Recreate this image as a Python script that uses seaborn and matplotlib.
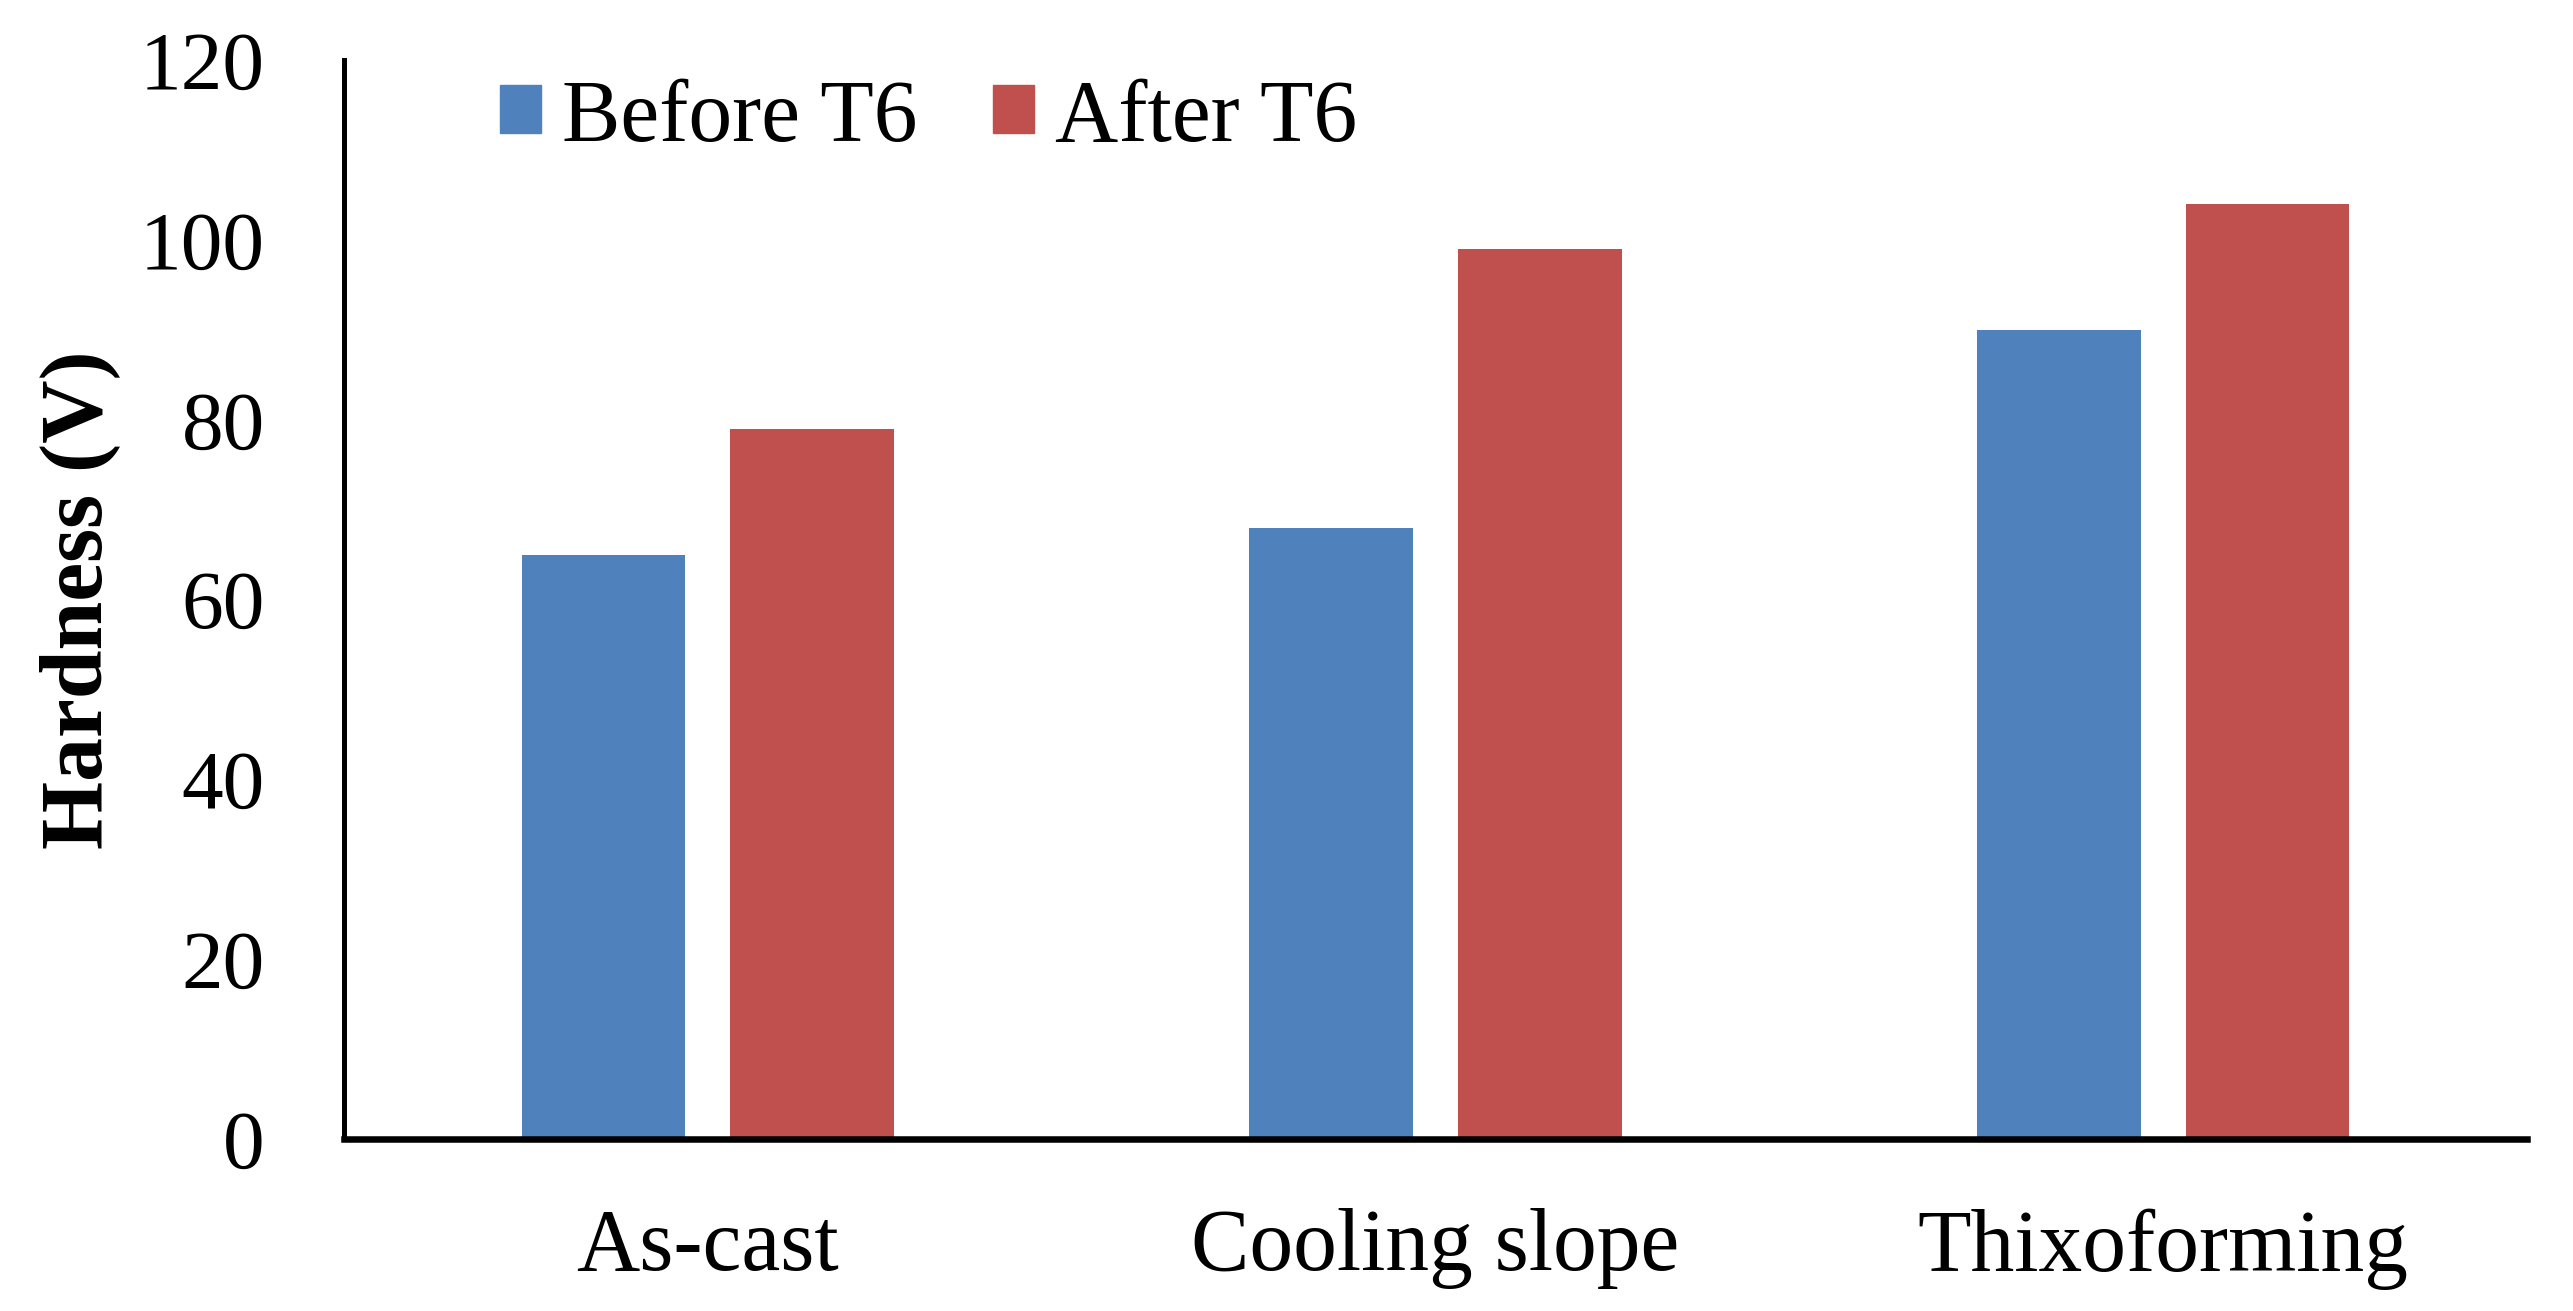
import pandas as pd
import matplotlib
matplotlib.use("Agg")
import matplotlib.pyplot as plt
import seaborn as sns

# values
processes = ['As-cast', 'Cooling slope', 'Thixoforming']
before_t6 = [65, 68, 90]
after_t6 = [79, 99, 104]
conditions = ['Before T6', 'After T6']
colors = ['#4F81BD', '#C0504D']
y_ticks = [0, 20, 40, 60, 80, 100, 120]

df = pd.DataFrame({
    'process': processes * 2,
    'hardness': before_t6 + after_t6,
    'condition': [conditions[0]] * 3 + [conditions[1]] * 3,
})

sns.set_style('white')
plt.rcParams['font.family'] = ['Liberation Serif', 'DejaVu Serif']
plt.rcParams['text.color'] = 'black'
plt.rcParams['xtick.color'] = 'black'
plt.rcParams['ytick.color'] = 'black'
plt.rcParams['axes.labelcolor'] = 'black'

fig = plt.figure(figsize=(25.73, 13.11), dpi=100)
ax = fig.add_axes([0.1337, 0.1312, 0.9821 - 0.1337, 0.9542 - 0.1312])

sns.barplot(data=df, x='process', y='hardness', hue='condition',
            palette=colors, saturation=1, width=0.574, gap=0.216,
            errorbar=None, linewidth=0, ax=ax)

ax.set_ylim(0, 120)
ax.set_xlim(-0.5, 2.5)
ax.set_yticks(y_ticks)
ax.set_xlabel('')
ax.set_ylabel('Hardness (V)', fontsize=63, fontweight='bold')
ax.yaxis.set_label_coords(-0.1026, 0.5)
ax.tick_params(axis='y', length=0, pad=57, labelsize=60)
ax.tick_params(axis='x', length=0, pad=50, labelsize=63)

for s in ['top', 'right']:
    ax.spines[s].set_visible(False)
ax.spines['left'].set_linewidth(3.6)
ax.spines['bottom'].set_linewidth(4.7)
ax.spines['left'].set_color('black')
ax.spines['bottom'].set_color('black')

ax.legend_.remove()
handles = [plt.Rectangle((0, 0), 1, 1, color=c) for c in colors]
fig.legend(handles, conditions, ncol=2, frameon=False, fontsize=63,
           loc='center left', bbox_to_anchor=(0.1772, 0.9092),
           borderpad=0, handlelength=0.47, handleheight=0.47,
           handletextpad=0.24, columnspacing=0.86)

fig.savefig('out.png', dpi=100)
